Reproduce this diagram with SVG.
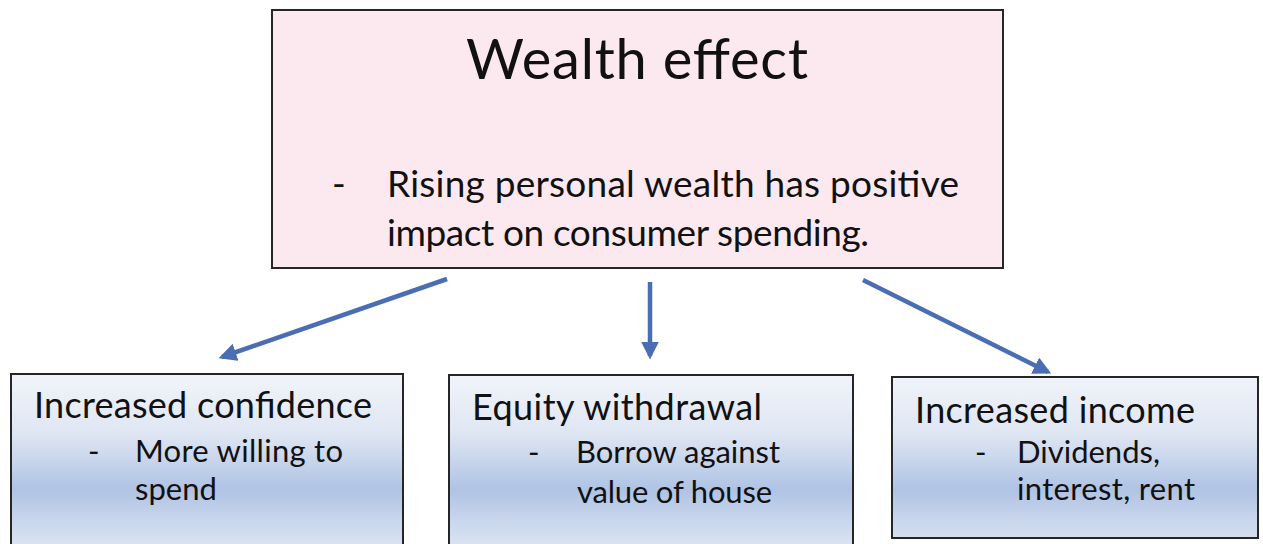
<svg xmlns="http://www.w3.org/2000/svg" width="1263" height="544" viewBox="0 0 1263 544">
  <style>
    .box { stroke: #262626; stroke-width: 2; }
    .top { fill: #fce9ef; }
    .sub { fill: url(#blueFill); }
    text { font-family: Lato, "Open Sans", "Liberation Sans", sans-serif; fill: #111; }
    .title { font-size: 56px; }
    .body { font-size: 37px; }
    .head { font-size: 36px; }
    .item { font-size: 31px; }
    .conn { stroke: #4a6db3; stroke-width: 4.5; fill: none; marker-end: url(#arrow); }
  </style>
  <defs>
    <linearGradient id="blueFill" gradientUnits="userSpaceOnUse" x1="0" y1="374" x2="0" y2="544">
      <stop offset="0" stop-color="#f1f4fa"/>
      <stop offset="0.35" stop-color="#dfe6f3"/>
      <stop offset="0.68" stop-color="#afc3e4"/>
      <stop offset="0.85" stop-color="#c8d5ec"/>
      <stop offset="1" stop-color="#d9e2f1"/>
    </linearGradient>
    <marker id="arrow" viewBox="0 0 10 10" refX="8" refY="5" markerWidth="4" markerHeight="4" orient="auto" markerUnits="strokeWidth">
      <path d="M0,0 L10,5 L0,10 z" fill="#4a6db3"/>
    </marker>
  </defs>

  <rect width="1263" height="544" fill="#ffffff"/>

  <!-- connectors from the main box to the three channels -->
  <g id="connectors">
    <line class="conn" x1="447" y1="279" x2="222" y2="357"/>
    <line class="conn" x1="650" y1="282" x2="650" y2="356"/>
    <line class="conn" x1="863" y1="280" x2="1048" y2="372"/>
  </g>

  <g id="wealth-effect">
    <rect class="box top" x="272" y="10" width="731" height="258"/>
    <text class="title" x="466" y="79" textLength="342">Wealth effect</text>
    <text class="body" x="332" y="197">-</text>
    <text class="body" x="387" y="197" textLength="572">Rising personal wealth has positive</text>
    <text class="body" x="387" y="246" textLength="482">impact on consumer spending.</text>
  </g>

  <g id="increased-confidence">
    <rect class="box sub" x="11" y="374" width="392" height="180"/>
    <text class="head" x="34" y="418" textLength="338">Increased confidence</text>
    <text class="item" x="88" y="462">-</text>
    <text class="item" x="135" y="462" textLength="208">More willing to</text>
    <text class="item" x="135" y="500">spend</text>
  </g>

  <g id="equity-withdrawal">
    <rect class="box sub" x="449" y="375" width="404" height="180"/>
    <text class="head" x="472" y="420" textLength="290">Equity withdrawal</text>
    <text class="item" x="528" y="463">-</text>
    <text class="item" x="576" y="463" textLength="204">Borrow against</text>
    <text class="item" x="577" y="503" textLength="195">value of house</text>
  </g>

  <g id="increased-income">
    <rect class="box sub" x="892" y="377" width="366" height="161"/>
    <text class="head" x="915" y="423" textLength="280">Increased income</text>
    <text class="item" x="975" y="463">-</text>
    <text class="item" x="1017" y="463">Dividends,</text>
    <text class="item" x="1017" y="500" textLength="178">interest, rent</text>
  </g>
</svg>
